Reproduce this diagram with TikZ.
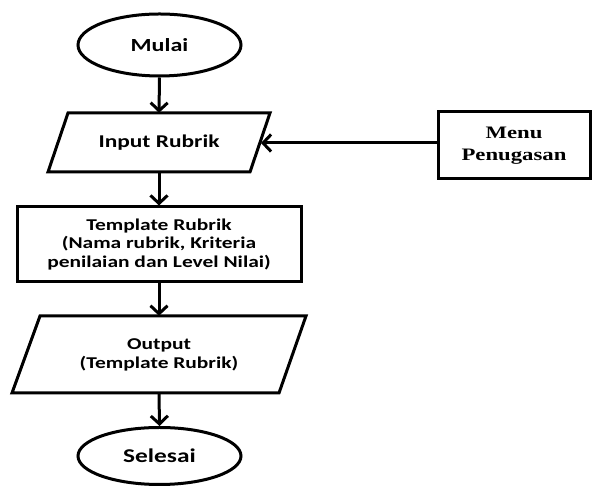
\documentclass[tikz,border=0pt]{standalone}
\usepackage{fontspec}
\setmainfont{Carlito}[FakeStretch=1.3]
\newfontfamily\menufont{Liberation Serif}[FakeStretch=1.3]
\usetikzlibrary{shapes.geometric,arrows.meta}
\begin{document}
\begin{tikzpicture}[x=1pt,y=1pt,
  lw/.style={line width=3pt},
  term/.style={ellipse,draw,lw,minimum width=163pt,minimum height=62pt,inner sep=0pt,font=\bfseries\fontsize{18.5}{22}\selectfont},
  boxnode/.style={rectangle,draw,lw,inner sep=0pt,align=center,font=\bfseries\fontsize{16.5}{18.5}\selectfont},
  iotext/.style={rectangle,inner sep=0pt,align=center,font=\bfseries\fontsize{16.5}{19}\selectfont},
  arr/.style={lw,-{Straight Barb[length=8pt,width=17pt,line width=3pt]}}]
\useasboundingbox (0,0) rectangle (592,486);
% start
\node[term] (mulai) at (159.5,441) {Mulai};
% input parallelogram
\draw[lw,line join=miter] (68,373) -- (270,373) -- (250,314) -- (48,314) -- cycle;
\node[iotext,minimum width=200pt,minimum height=59pt,font=\bfseries\fontsize{18}{20}\selectfont] (in) at (159,343.5) {Input Rubrik};
\coordinate (inR) at (261,343);
% template
\node[boxnode,minimum width=284pt,minimum height=75pt] (tpl) at (159,241.5)
  {Template Rubrik\\(Nama rubrik, Kriteria\\penilaian dan Level Nilai)};
% output parallelogram
\draw[lw,line join=miter] (40,170) -- (306,170) -- (279,93) -- (12,93) -- cycle;
\node[iotext,minimum width=260pt,minimum height=77pt] (out) at (159,131.5) {Output\\(Template Rubrik)};
% end
\node[term,minimum height=57pt,font=\bfseries\fontsize{19.5}{22}\selectfont] (selesai) at (159.5,30) {Selesai};
% menu
\node[boxnode,minimum width=152pt,minimum height=67pt,font=\menufont\bfseries\fontsize{17.5}{22}\selectfont] (menu) at (514,340.5) {Menu\\Penugasan};
% connectors
\draw[arr] (mulai.south) -- (in.north);
\draw[arr] (in.south) -- (tpl.north);
\draw[arr] (tpl.south) -- (out.north);
\draw[arr] (out.south) -- (selesai.north);
\draw[arr] (menu.west |- inR) -- (inR);
\end{tikzpicture}
\end{document}
